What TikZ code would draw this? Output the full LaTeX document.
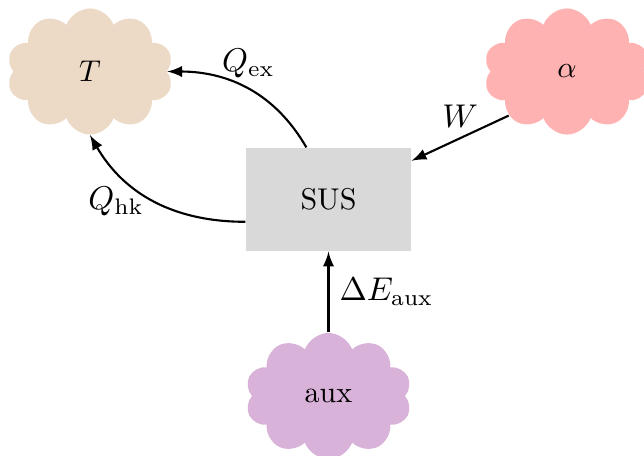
\documentclass[tikz,border=0pt]{standalone}
\usepackage{amsmath}
\usetikzlibrary{shapes.symbols}

\begin{document}
\begin{tikzpicture}[x=0.333pt, y=-0.333pt, >=latex,
    bath/.style={cloud, cloud puffs=10, cloud puff arc=140, cloud ignores aspect, draw=none, inner sep=0pt,
      minimum width=55.5pt, minimum height=42pt},
    flow/.style={->, line width=0.7pt},
    flowlabel/.style={font=\fontsize{10.7pt}{13pt}\selectfont}]
  \useasboundingbox (0,0) rectangle (644,456);

  \node (T) [bath, fill=brown!30] at (90, 71.5) {$T$};
  \node (alpha) [bath, fill=red!30] at (567, 71.5) {$\alpha$};
  \node (aux) [bath, fill=violet!30] at (328.5, 396) {aux};
  \node (sus) [rectangle, fill=gray!30, minimum width=55pt, minimum height=34.3pt] at (328.5, 199.5) {SUS};

  \draw[flow] (sus.113) to[out=120, in=0] node[flowlabel, midway, above] {$Q_\text{ex}$} (T.east);
  \draw[flow] (sus.195) to[out=180, in=-60] node[flowlabel, midway, left] {$Q_\text{hk}$} (T.south);
  \draw[flow] (alpha.south west) -- node[flowlabel, midway, above] {$W$} (sus.25);
  \draw[flow] (aux.north) -- node[flowlabel, midway, right] {$\Delta E_\text{aux}$} (sus.south);
\end{tikzpicture}
\end{document}
